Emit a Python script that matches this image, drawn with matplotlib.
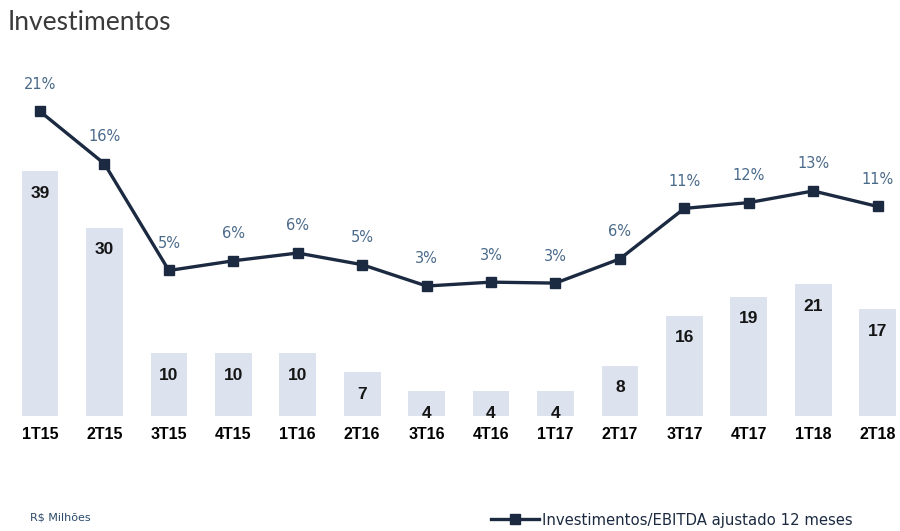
import matplotlib
matplotlib.use('Agg')
import matplotlib.pyplot as plt
from matplotlib.lines import Line2D

# data
quarters = ['1T15', '2T15', '3T15', '4T15', '1T16', '2T16', '3T16',
            '4T16', '1T17', '2T17', '3T17', '4T17', '1T18', '2T18']
investimentos = [39, 30, 10, 10, 10, 7, 4, 4, 4, 8, 16, 19, 21, 17]
inv_ebitda = [21.0, 15.6, 4.6, 5.6, 6.4, 5.2, 3.0, 3.4, 3.3, 5.8, 11.0, 11.6, 12.8, 11.2]

bar_color = '#dce3ef'
line_color = '#1b2a41'
pct_color = '#4a6a8a'

fig = plt.figure(figsize=(9, 5.31), dpi=100)
ax = fig.add_axes([11/900, 115/531, 886/900, 356/531])

x = list(range(len(quarters)))
bars = ax.bar(x, investimentos, width=0.57, color=bar_color, zorder=1)
ax.set_ylim(0, 56.7)
ax.set_xlim(-0.45, 13.3)

for xi, v in zip(x, investimentos):
    ax.annotate(f'{v}', (xi, v), xytext=(0, -16), textcoords='offset points',
                ha='center', va='center', fontsize=12.5, fontweight='bold',
                family='Liberation Sans', color='#151515')

ax.set_xticks(x)
ax.set_xticklabels(quarters, fontsize=11.5, fontweight='bold', family='Liberation Sans')
ax.tick_params(axis='x', length=0, pad=8)
ax.set_yticks([])
for s in ax.spines.values():
    s.set_visible(False)

ax2 = ax.twinx()
ax2.plot(x, inv_ebitda, color=line_color, lw=2.4, marker='s', ms=7, zorder=3)
ax2.set_ylim(-10.4, 26.3)
ax2.set_yticks([])
for s in ax2.spines.values():
    s.set_visible(False)

for xi, v in zip(x, inv_ebitda):
    ax2.annotate(f'{v:.0f}%', (xi, v), xytext=(0, 19.5), textcoords='offset points',
                 ha='center', va='center', fontsize=10.5, color=pct_color,
                 family='DejaVu Sans')

fig.text(8/900, 1 - 22/531, 'Investimentos', fontsize=19, color='#3a3a3a',
         va='center', ha='left', family='Lato')
fig.text(30/900, 1 - 517/531, 'R$ Milhões', fontsize=8, color='#2a4a6a',
         va='center', ha='left', family='DejaVu Sans')

handle = Line2D([], [], color=line_color, lw=2.4, marker='s', ms=7)
fig.legend([handle], ['Investimentos/EBITDA ajustado 12 meses'], loc='center left',
           bbox_to_anchor=(478/900, 1 - 520/531), frameon=False,
           prop={'size': 10.7, 'family': 'DejaVu Sans'}, handlelength=3.2,
           handletextpad=0.2, labelcolor='#1b2a41')

fig.savefig('out.png', dpi=100)
